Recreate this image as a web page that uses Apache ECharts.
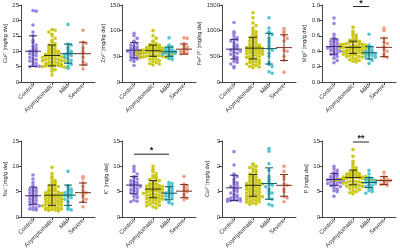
<!DOCTYPE html>
<html>
<head>
<meta charset="utf-8">
<script src="https://cdn.jsdelivr.net/npm/echarts@6/dist/echarts.min.js"></script>
<style>
  html, body { margin: 0; padding: 0; background: #fff; }
  #chart { width: 400px; height: 252px; }
</style>
</head>
<body>
<div id="chart"></div>
<script>
// groups shown on every panel
var groups = ['Control', 'Asymptomatic', 'Mild', 'Severe']

// values per element: [control, asymptomatic, mild, severe]
var cu = [
  [23.2, 23, 18.5, 16.2, 15, 13.5, 12.8, 12, 11.5, 11, 10.5, 10.2, 10, 9.8, 9.5, 9.2, 8.8, 8.5, 8, 7.5, 7.2, 6.8, 6.5, 6, 5.5, 5.2, 5, 5.1],
  [17, 16.8, 16.2, 15.5, 15, 14.2, 13.5, 13, 12.5, 12, 11.8, 11.5, 11, 10.8, 10.5, 10.2, 10, 9.8, 9.6, 9.4, 9.2, 9, 8.8, 8.7, 8.6, 8.5, 8.4, 8.2, 8, 7.9, 7.8, 7.6, 7.5, 7.4, 7.2, 7, 6.9, 6.8, 6.6, 6.5, 6.3, 6.2, 6, 5.8, 5.6, 5.5, 5.4, 5.3, 5.2, 5.1, 5, 4.8, 4.5, 4, 3.5, 2.3],
  [18.7, 12.3, 12, 11.2, 10.5, 10, 9.6, 9.3, 9, 8.8, 8.5, 8, 7.5, 7, 6.2, 5.8, 5, 4.5],
  [16.8, 13, 12.5, 11, 10, 9.3, 8, 6.5, 5.8, 5.5, 4.2]
]
var zn = [
  [95, 90, 85, 80, 78, 75, 72, 70, 68, 66, 65, 63, 62, 61, 60, 59, 58, 56, 55, 53, 52, 50, 48, 46, 45, 43, 40, 32],
  [100, 90, 85, 80, 78, 75, 73, 72, 71, 70, 69, 68, 67, 66, 65, 65, 64, 63, 63, 62, 62, 61, 61, 60, 60, 59, 59, 58, 58, 57, 57, 56, 56, 55, 55, 54, 54, 53, 52, 52, 51, 50, 50, 49, 48, 48, 47, 46, 45, 44, 42, 40, 38, 36, 35, 33],
  [86, 72, 70, 68, 66, 64, 62, 61, 60, 59, 58, 57, 56, 54, 52, 50, 46, 44],
  [86, 85, 75, 70, 68, 65, 63, 60, 58, 56, 55]
]
var fe = [
  [1160, 980, 950, 900, 860, 840, 820, 800, 760, 720, 700, 680, 650, 640, 620, 600, 580, 560, 540, 500, 480, 450, 420, 400, 380, 350, 300, 280],
  [1350, 1250, 1150, 1100, 1050, 1000, 980, 950, 920, 900, 880, 860, 840, 820, 800, 780, 760, 740, 720, 710, 700, 690, 680, 670, 660, 650, 640, 630, 620, 610, 600, 590, 580, 570, 560, 550, 540, 530, 520, 500, 490, 480, 460, 450, 440, 420, 400, 390, 380, 360, 350, 340, 320, 300, 290, 280],
  [1250, 1050, 980, 950, 920, 850, 800, 760, 700, 650, 620, 560, 500, 380, 340, 300, 200, 170],
  [1040, 990, 950, 900, 850, 800, 620, 600, 500, 420, 190]
]
var mg = [
  [0.83, 0.76, 0.62, 0.58, 0.56, 0.54, 0.53, 0.52, 0.5, 0.49, 0.48, 0.47, 0.46, 0.45, 0.45, 0.44, 0.43, 0.42, 0.41, 0.4, 0.39, 0.38, 0.36, 0.35, 0.33, 0.31, 0.28, 0.25],
  [0.71, 0.66, 0.63, 0.61, 0.6, 0.58, 0.56, 0.55, 0.54, 0.53, 0.52, 0.52, 0.51, 0.5, 0.5, 0.49, 0.49, 0.48, 0.48, 0.47, 0.47, 0.46, 0.46, 0.45, 0.45, 0.45, 0.44, 0.44, 0.43, 0.43, 0.42, 0.42, 0.41, 0.41, 0.4, 0.4, 0.39, 0.39, 0.38, 0.38, 0.37, 0.37, 0.36, 0.36, 0.35, 0.35, 0.34, 0.33, 0.33, 0.32, 0.31, 0.3, 0.29, 0.28, 0.27, 0.26],
  [0.62, 0.48, 0.46, 0.45, 0.43, 0.41, 0.4, 0.39, 0.38, 0.37, 0.36, 0.35, 0.34, 0.33, 0.32, 0.3, 0.28, 0.24],
  [0.7, 0.67, 0.57, 0.52, 0.5, 0.45, 0.42, 0.4, 0.36, 0.33, 0.32]
]
var na = [
  [8.3, 7.5, 6.8, 6.2, 5.8, 5.6, 5.4, 5.2, 5, 4.8, 4.6, 4.4, 4.2, 4, 3.8, 3.6, 3.4, 3.2, 3, 2.8, 2.6, 2.4, 2.2, 2, 1.8, 1.6, 1.5, 1.4],
  [9.8, 8.6, 8, 7.6, 7.2, 7, 6.8, 6.5, 6.3, 6.1, 6, 5.8, 5.6, 5.4, 5.3, 5.2, 5, 4.9, 4.8, 4.7, 4.6, 4.5, 4.4, 4.3, 4.2, 4.1, 4, 3.9, 3.8, 3.7, 3.6, 3.5, 3.4, 3.3, 3.2, 3.1, 3, 2.9, 2.8, 2.7, 2.6, 2.5, 2.4, 2.3, 2.2, 2.1, 2, 1.9, 1.8, 1.7, 1.6, 1.5, 1.4, 1.3, 1.2, 1.5],
  [9, 6.2, 5.8, 5.5, 5.2, 5, 4.8, 4.6, 4.5, 4.3, 4, 3.8, 3.5, 3, 2.2, 1.8, 1.5, 1.4],
  [8, 7.6, 6.8, 6, 5.2, 4.8, 4.4, 4, 3.5, 3, 2]
]
var k = [
  [10, 9.5, 9, 8.5, 8, 7.8, 7.5, 7.2, 7, 6.8, 6.6, 6.4, 6.3, 6.2, 6, 5.8, 5.6, 5.4, 5.2, 5, 4.8, 4.5, 4.2, 4, 3.8, 3.3, 3.1, 3],
  [10, 9.4, 9, 8.6, 8.2, 8, 7.8, 7.6, 7.4, 7.2, 7, 6.8, 6.6, 6.5, 6.4, 6.3, 6.2, 6.1, 6, 5.9, 5.8, 5.7, 5.6, 5.5, 5.4, 5.3, 5.2, 5.1, 5, 4.9, 4.8, 4.7, 4.6, 4.5, 4.4, 4.3, 4.2, 4.1, 4, 3.9, 3.8, 3.7, 3.6, 3.5, 3.4, 3.3, 3.2, 3, 2.9, 2.8, 2.6, 2.5, 2.3, 2.2, 2, 1.8],
  [6.8, 6.6, 6.4, 6, 5.8, 5.5, 5.2, 5, 4.8, 4.6, 4.4, 4.2, 4, 3.8, 3.5, 3, 2.8, 2.6],
  [8, 6.5, 6.2, 5.8, 5.5, 5.2, 5, 4.5, 4, 3.7, 3.4]
]
var ca = [
  [2.58, 2.05, 1.7, 1.65, 1.6, 1.5, 1.4, 1.35, 1.3, 1.25, 1.2, 1.15, 1.1, 1.05, 1, 0.95, 0.9, 0.85, 0.8, 0.78, 0.75, 0.72, 0.7, 0.68, 0.66, 0.65, 0.63, 0.62],
  [2.1, 2.05, 2, 1.95, 1.9, 1.85, 1.8, 1.75, 1.7, 1.65, 1.6, 1.55, 1.5, 1.48, 1.45, 1.42, 1.4, 1.38, 1.35, 1.32, 1.3, 1.28, 1.25, 1.22, 1.2, 1.18, 1.15, 1.12, 1.1, 1.08, 1.05, 1.02, 1, 0.98, 0.95, 0.92, 0.9, 0.88, 0.85, 0.82, 0.8, 0.78, 0.75, 0.72, 0.7, 0.68, 0.65, 0.62, 0.6, 0.58, 0.55, 0.52, 0.5, 0.8, 1.3, 1.6],
  [2.7, 2.6, 2.1, 1.85, 1.6, 1.5, 1.4, 1.3, 1.25, 1.2, 1.1, 1, 0.95, 0.9, 0.75, 0.7, 0.5, 0.45],
  [2, 1.8, 1.6, 1.5, 1.3, 1.25, 1.1, 1, 0.8, 0.75, 0.6]
]
var p = [
  [10, 9.5, 9.2, 8.8, 8.6, 8.4, 8.2, 8, 7.8, 7.6, 7.5, 7.4, 7.3, 7.2, 7.1, 7, 6.9, 6.8, 6.6, 6.5, 6.4, 6.2, 6, 5.8, 5.5, 5.2, 5, 4.1],
  [13.3, 12, 11, 10.5, 10, 9.7, 9.4, 9.2, 9, 8.8, 8.7, 8.6, 8.5, 8.4, 8.3, 8.2, 8.1, 8, 7.9, 7.9, 7.8, 7.8, 7.7, 7.7, 7.6, 7.6, 7.5, 7.5, 7.4, 7.4, 7.3, 7.3, 7.2, 7.2, 7.1, 7, 7, 6.9, 6.8, 6.7, 6.6, 6.5, 6.4, 6.3, 6.2, 6.1, 6, 5.9, 5.8, 5.6, 5.4, 5.2, 5, 4.8, 4.6, 8],
  [9.2, 8.5, 7.8, 7.6, 7.4, 7.2, 7, 6.9, 6.8, 6.6, 6.4, 6.2, 6, 5.8, 5.5, 5.2, 5, 4.7],
  [8.8, 8, 7.8, 7.5, 7.3, 7.2, 7, 6.8, 6.5, 6.2, 6.4]
]

// mean and SD per group, as drawn
var cuStats = [[10, 5], [8.6, 3.4], [9.2, 3.1], [9.2, 3.7]]
var znStats = [[62, 15], [61, 11], [59, 9], [64, 10]]
var feStats = [[640, 190], [660, 210], [650, 300], [670, 250]]
var mgStats = [[0.46, 0.1], [0.45, 0.08], [0.38, 0.08], [0.45, 0.12]]
var naStats = [[4.2, 1.7], [4.3, 2], [4.3, 2], [4.8, 1.9]]
var kStats = [[6.3, 1.7], [5.5, 1.7], [4.7, 1.3], [5.1, 1.3]]
var caStats = [[1.15, 0.5], [1.25, 0.43], [1.32, 0.62], [1.25, 0.43]]
var pStats = [[7.4, 1.2], [7.8, 1.45], [6.8, 1], [7.2, 0.8]]

// axis names, ranges and tick steps
var yNames = ['Cu²⁺ [mg/kg dw]', 'Zn²⁺ [mg/kg dw]', 'Fe²⁺/³⁺ [mg/kg dw]', 'Mg²⁺ [mg/g dw]', 'Na⁺ [mg/g dw]', 'K⁺ [mg/g dw]', 'Ca²⁺ [mg/g dw]', 'P [mg/g dw]']
var yMax = [25, 150, 1500, 1, 15, 15, 3, 15]
var yStep = [5, 50, 500, 0.2, 5, 5, 1, 5]

// significance: panel, from group, to group, height, label
var sigBars = [
  [3, 1, 2, 0.98, '*'],
  [5, 0, 2, 12.4, '*'],
  [7, 1, 2, 14.8, '**']
]

var values = [cu, zn, fe, mg, na, k, ca, p]
var stats = [cuStats, znStats, feStats, mgStats, naStats, kStats, caStats, pStats]

// layout
var groupX = [0, 1.14, 2.1, 3]
var colLeft = [21, 122, 222, 322]
var nameGaps = [13, 15, 19, 15, 13, 13, 12, 13]
var dotColors = ['#9278dc', '#c6c200', '#44bfc8', '#ef9272']
var barColors = ['#3a2a78', '#2f2f0a', '#0f5d66', '#7c301c']

function swarm(vals, gx, binSize, stepX){
    var bins = {}
    return vals.map(function(v){
        var b = Math.round(v / binSize)
        var n = bins[b] = (bins[b] || 0) + 1
        var i = n - 1
        var off = i === 0 ? 0 : (i % 2 ? Math.ceil(i / 2) : -i / 2)
        return [gx + off * stepX, v]
    })
}

var grids = [], xAxes = [], yAxes = [], series = []

values.forEach(function(panel, pi){
    var row = Math.floor(pi / 4)
    grids.push({
        left: colLeft[pi % 4],
        top: row ? 141 : 5,
        width: 74,
        height: row ? 76 : 77,
        containLabel: false,
        outerBoundsMode: 'none'
    })
    xAxes.push({
        type: 'value', gridIndex: pi, min: -0.72, max: 3.72,
        axisLine: { show: true, onZero: false, lineStyle: { color: '#444', width: 1 } },
        axisTick: { show: true, customValues: groupX, length: 3, lineStyle: { color: '#444' } },
        axisLabel: {
            customValues: groupX, rotate: 45, fontSize: 6, margin: 3, color: '#333',
            fontFamily: 'Liberation Sans',
            formatter: function(v){ return groups[groupX.indexOf(v)] }
        },
        splitLine: { show: false }
    })
    var dec = yStep[pi] < 1 ? 1 : 0
    yAxes.push({
        type: 'value', gridIndex: pi, min: 0, max: yMax[pi], interval: yStep[pi],
        name: yNames[pi], nameLocation: 'middle', nameGap: nameGaps[pi],
        nameTextStyle: { fontSize: 5.5, color: '#333', fontFamily: 'Liberation Sans' },
        axisLine: { show: true, onZero: false, lineStyle: { color: '#444', width: 1 } },
        axisTick: { show: true, length: 3, lineStyle: { color: '#444' } },
        axisLabel: {
            fontSize: 6, margin: 2, color: '#333', fontFamily: 'Liberation Sans',
            formatter: function(v){ return v.toFixed(dec) }
        },
        splitLine: { show: false }
    })
    panel.forEach(function(vals, gi){
        series.push({
            type: 'scatter', xAxisIndex: pi, yAxisIndex: pi,
            symbolSize: 3.6,
            itemStyle: { color: dotColors[gi], opacity: 0.9 },
            data: swarm(vals, groupX[gi], yMax[pi] / 24, 0.19),
            silent: true, z: 2
        })
    })
    series.push({
        type: 'custom', xAxisIndex: pi, yAxisIndex: pi, z: 5, silent: true,
        data: stats[pi].map(function(s, gi){ return [groupX[gi], s[0], s[1]] }),
        encode: { x: 0, y: 1 },
        renderItem: function(params, api){
            var x = api.value(0), m = api.value(1), s = api.value(2)
            var top = api.coord([x, m + s]), bot = api.coord([x, m - s]), mid = api.coord([x, m])
            var st = { stroke: barColors[params.dataIndex], lineWidth: 1 }
            return {
                type: 'group',
                children: [
                    { type: 'line', shape: { x1: top[0], y1: top[1], x2: bot[0], y2: bot[1] }, style: st },
                    { type: 'line', shape: { x1: top[0] - 4, y1: top[1], x2: top[0] + 4, y2: top[1] }, style: st },
                    { type: 'line', shape: { x1: bot[0] - 4, y1: bot[1], x2: bot[0] + 4, y2: bot[1] }, style: st },
                    { type: 'line', shape: { x1: mid[0] - 8, y1: mid[1], x2: mid[0] + 8, y2: mid[1] }, style: st }
                ]
            }
        }
    })
})

sigBars.forEach(function(sb){
    var pi = sb[0]
    series.push({
        type: 'custom', xAxisIndex: pi, yAxisIndex: pi, z: 6, silent: true,
        data: [[groupX[sb[1]], groupX[sb[2]], sb[3]]],
        encode: { x: [0, 1], y: 2 },
        renderItem: function(params, api){
            var a = api.coord([api.value(0), api.value(2)])
            var b = api.coord([api.value(1), api.value(2)])
            return {
                type: 'group',
                children: [
                    { type: 'line', shape: { x1: a[0], y1: a[1], x2: b[0], y2: b[1] }, style: { stroke: '#222', lineWidth: 1 } },
                    { type: 'text', x: (a[0] + b[0]) / 2, y: a[1] + 1,
                      style: { text: sb[4], fontSize: 9, fontWeight: 'bold', fill: '#222', align: 'center', verticalAlign: 'bottom', fontFamily: 'Liberation Sans' } }
                ]
            }
        }
    })
})

var chart = echarts.init(document.getElementById('chart'))
chart.setOption({
    animation: false,
    backgroundColor: '#fff',
    grid: grids,
    xAxis: xAxes,
    yAxis: yAxes,
    series: series
})
</script>
</body>
</html>
